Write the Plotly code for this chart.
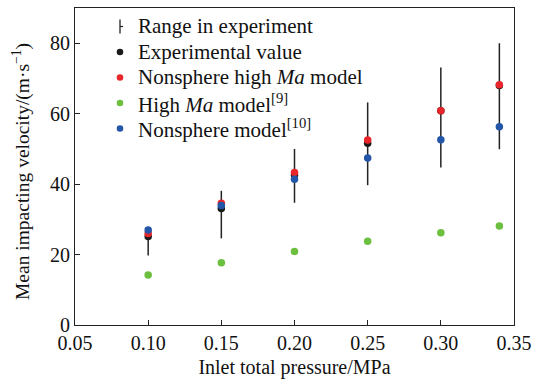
import plotly.graph_objects as go

pressure = [0.10, 0.15, 0.20, 0.25, 0.30, 0.34]
exp_value = [25.1, 33.1, 42.6, 51.6, 60.8, 68.0]
range_low = [19.7, 24.6, 34.7, 39.7, 44.7, 49.9]
range_high = [27.5, 38.1, 50.0, 63.2, 73.1, 80.0]
nonsphere_high_ma = [26.0, 34.6, 43.3, 52.5, 60.8, 68.2]
high_ma = [14.2, 17.7, 20.9, 23.8, 26.2, 28.1]
nonsphere = [27.0, 33.9, 41.4, 47.4, 52.6, 56.3]

series_names = ["Range in experiment", "Experimental value",
                "Nonsphere high <i>Ma</i> model", "High <i>Ma</i> model<sup>[9]</sup>",
                "Nonsphere model<sup>[10]</sup>"]
series_colors = ["#222222", "#1a1a1a", "#e8252a", "#6cbf3f", "#2356a8"]
x_title = "Inlet total pressure/MPa"
y_title = "Mean impacting velocity/(m·s<sup>−1</sup>)"

FONT = "Liberation Serif, Times New Roman, serif"
W, H = 533, 379
ML, MR, MT, MB = 75, 19, 8, 54
PW, PH = W - ML - MR, H - MT - MB

mid = [(a + b) / 2 for a, b in zip(range_low, range_high)]
half_up = [h - m for h, m in zip(range_high, mid)]
half_dn = [m - l for m, l in zip(mid, range_low)]

fig = go.Figure()
fig.add_trace(go.Scatter(
    x=pressure, y=mid, mode="markers",
    marker=dict(size=1, color="rgba(0,0,0,0)"),
    error_y=dict(type="data", symmetric=False, array=half_up, arrayminus=half_dn,
                 color=series_colors[0], thickness=1.5, width=0),
    showlegend=False, hoverinfo="skip"))
for ys, name, col in [(exp_value, series_names[1], series_colors[1]),
                      (nonsphere_high_ma, series_names[2], series_colors[2]),
                      (high_ma, series_names[3], series_colors[3]),
                      (nonsphere, series_names[4], series_colors[4])]:
    fig.add_trace(go.Scatter(x=pressure, y=ys, mode="markers", name=name,
                             marker=dict(size=7.5, color=col), showlegend=False))

def px_x(p):
    return (p - ML) / PW

def px_y(p):
    return (H - MB - p) / PH

# manual legend
legend_rows = [26.5, 52, 77.5, 103, 128.5]
sym_x, text_x = 120, 136
shapes = []
annotations = []
for i, (yy, name, col) in enumerate(zip(legend_rows, series_names, series_colors)):
    annotations.append(dict(x=px_x(text_x), y=px_y(yy), xref="paper", yref="paper",
                            text=name, showarrow=False, xanchor="left", yanchor="middle",
                            font=dict(family=FONT, size=21, color="#111111")))
    if i == 0:
        shapes.append(dict(type="line", xref="paper", yref="paper",
                           xsizemode="pixel", ysizemode="pixel",
                           xanchor=px_x(sym_x), yanchor=px_y(yy),
                           x0=0, x1=0, y0=-7, y1=7, line=dict(color=col, width=1.3)))
        shapes.append(dict(type="line", xref="paper", yref="paper",
                           xsizemode="pixel", ysizemode="pixel",
                           xanchor=px_x(sym_x), yanchor=px_y(yy),
                           x0=0, x1=3, y0=0, y1=0, line=dict(color=col, width=1.2)))
    else:
        shapes.append(dict(type="circle", xref="paper", yref="paper",
                           xsizemode="pixel", ysizemode="pixel",
                           xanchor=px_x(sym_x), yanchor=px_y(yy),
                           x0=-3.3, x1=3.3, y0=-3.3, y1=3.3,
                           fillcolor=col, line=dict(width=0)))

# y axis title as rotated annotation
annotations.append(dict(x=px_x(21), y=px_y(172), xref="paper", yref="paper",
                        text=y_title, textangle=-90, showarrow=False,
                        xanchor="center", yanchor="middle",
                        font=dict(family=FONT, size=19.5, color="#111111")))

axis_common = dict(showline=True, linecolor="#222222", linewidth=1.2, mirror=True,
                   ticks="inside", ticklen=5, tickwidth=1.2, tickcolor="#222222",
                   showgrid=False, zeroline=False, automargin=False,
                   tickfont=dict(family=FONT, size=20, color="#111111"))

fig.update_layout(
    template="none",
    width=W, height=H,
    margin=dict(l=ML, r=MR, t=MT, b=MB),
    plot_bgcolor="white", paper_bgcolor="white",
    font=dict(family=FONT, size=20, color="#111111"),
    xaxis=dict(range=[0.05, 0.35], tickvals=[0.05, 0.10, 0.15, 0.20, 0.25, 0.30, 0.35],
               ticktext=["0.05", "0.10", "0.15", "0.20", "0.25", "0.30", "0.35"],
               title=dict(text=x_title, font=dict(family=FONT, size=20)),
               **axis_common),
    yaxis=dict(range=[0, 90], tickvals=[0, 20, 40, 60, 80],
               **axis_common),
    showlegend=False,
    shapes=shapes,
    annotations=annotations,
)

fig.write_html("out.html", config={"displayModeBar": False},
               post_script="document.body.style.margin='0px';document.body.style.padding='0px';")
